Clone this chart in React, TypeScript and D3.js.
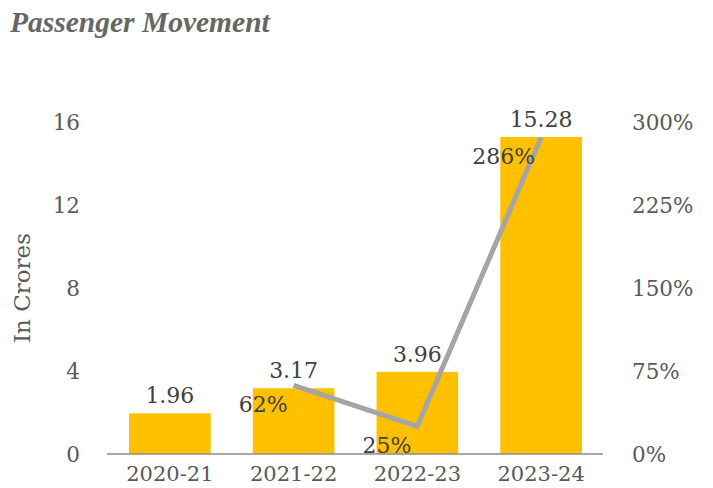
import React from 'react';
import * as d3 from 'd3';

const years = ['2020-21', '2021-22', '2022-23', '2023-24'];
const passengers = [1.96, 3.17, 3.96, 15.28];
const growth: (number | null)[] = [null, 62, 25, 286];
const leftTicks = [0, 4, 8, 12, 16];
const rightTicks = [0, 75, 150, 225, 300];

const W = 713;
const H = 488;
const serif = '"DejaVu Serif", serif';

export default function App() {
  const x = d3.scaleBand().domain(years).range([108, 603]).paddingInner(0.34).paddingOuter(0.17);
  const y = d3.scaleLinear().domain([0, 16]).range([454, 122]);
  const yPct = d3.scaleLinear().domain([0, 300]).range([454, 122]);
  const cx = (d: string) => (x(d) as number) + x.bandwidth() / 2;

  const linePts = years
    .map((d, i) => ({ year: d, v: growth[i] }))
    .filter(p => p.v !== null) as { year: string; v: number }[];
  const line = d3.line<{ year: string; v: number }>()
    .x(p => cx(p.year))
    .y(p => yPct(p.v));

  return (
    <div style={{ position: 'absolute', left: 0, top: 0 }}>
      <svg width={W} height={H} style={{ display: 'block', background: '#fff' }}>
        <text x={10} y={32} fontFamily='"Liberation Serif", serif' fontStyle="italic" fontWeight="bold"
          fontSize={29.5} fill="#666">Passenger Movement</text>

        {leftTicks.map(t => (
          <text key={'l' + t} x={80} y={y(t) + 8} textAnchor="end" fontFamily={serif}
            fontSize={21.5} fill="#595959">{t}</text>
        ))}
        {rightTicks.map(t => (
          <text key={'r' + t} x={632} y={yPct(t) + 8} textAnchor="start" fontFamily={serif}
            fontSize={21.5} fill="#595959">{t}%</text>
        ))}
        <text transform={`translate(30,${288}) rotate(-90)`} textAnchor="middle" fontFamily={serif}
          fontSize={23} fill="#595959">In Crores</text>

        {years.map((d, i) => (
          <rect key={d} x={x(d)} y={y(passengers[i])} width={x.bandwidth()}
            height={y(0) - y(passengers[i])} fill="#FFC000" />
        ))}

        <line x1={107} x2={603} y1={y(0)} y2={y(0)} stroke="#8c8c8c" strokeWidth={1.3} />

        {years.map(d => (
          <text key={'x' + d} x={cx(d)} y={481} textAnchor="middle" fontFamily={serif}
            fontSize={21} fill="#595959">{d}</text>
        ))}

        <path d={line(linePts) || ''} fill="none" stroke="#A5A5A5" strokeWidth={5}
          strokeLinejoin="round" />

        {years.map((d, i) => (
          <text key={'v' + d} x={cx(d)} y={y(passengers[i]) - 10} textAnchor="middle"
            fontFamily={serif} fontSize={22} fill="#404040">{passengers[i].toFixed(2)}</text>
        ))}
        {linePts.map(p => (
          <text key={'p' + p.year} x={cx(p.year) - 6} y={yPct(p.v) + 27} textAnchor="end"
            fontFamily={serif} fontSize={22} fill="#404040">{p.v}%</text>
        ))}
      </svg>
    </div>
  );
}
